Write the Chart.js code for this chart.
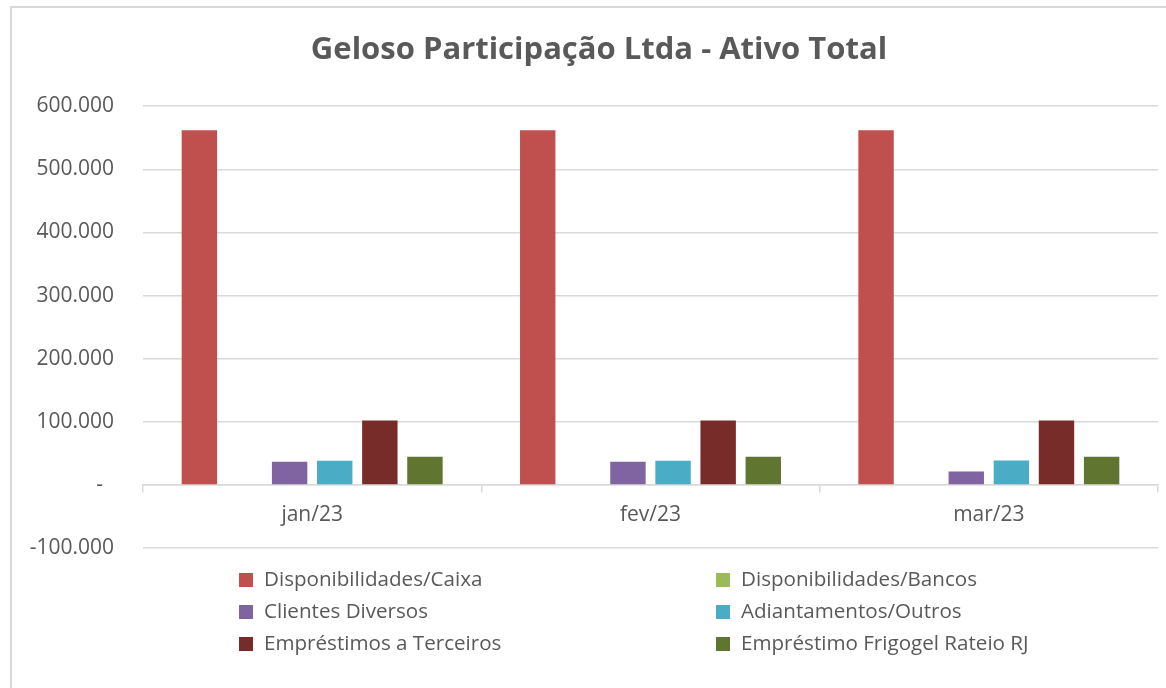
<!DOCTYPE html>
<html>
<head>
<meta charset="utf-8">
<script src="https://cdn.jsdelivr.net/npm/chart.js@4/dist/chart.umd.min.js"></script>
<style>
html,body{margin:0;padding:0;background:#fff;overflow:hidden;width:1166px;height:688px;}
#c{position:absolute;left:0;top:0;}
</style>
</head>
<body>
<canvas id="c" width="1200" height="688"></canvas>
<script>
const categories = ['jan/23', 'fev/23', 'mar/23'];
const caixa = [562000, 562000, 562000];
const bancos = [0, 0, 0];
const clientes = [36700, 36700, 21400];
const adiantamentos = [38300, 38300, 38800];
const emprestimosTerceiros = [102000, 102000, 102000];
const frigogel = [44600, 44600, 44600];
const yTicks = [-100000, 0, 100000, 200000, 300000, 400000, 500000, 600000];

const TXT = '#595959';
const GRID = '#d9d9d9';
const FONT = "'Open Sans', 'DejaVu Sans', sans-serif";

function fmt(v) {
  if (v === 0) return '-\u00a0\u00a0';
  const s = String(Math.abs(v)).replace(/\B(?=(\d{3})+(?!\d))/g, '.');
  return (v < 0 ? '-' : '') + s;
}

const borderPlugin = {
  id: 'frame',
  beforeDraw(chart) {
    const ctx = chart.ctx;
    ctx.save();
    ctx.fillStyle = '#fff';
    ctx.fillRect(0, 0, chart.width, chart.height);
    ctx.strokeStyle = GRID;
    ctx.lineWidth = 2;
    ctx.strokeRect(11, 7, 1400, 1000);
    ctx.restore();
  }
};

const legendPlugin = {
  id: 'gridLegend',
  afterDraw(chart) {
    const ctx = chart.ctx;
    const colX = [239, 716];
    const rowY = [580, 612, 644];
    ctx.save();
    ctx.font = '20.6px ' + FONT;
    ctx.textBaseline = 'middle';
    ctx.textAlign = 'left';
    chart.data.datasets.forEach((ds, i) => {
      const x = colX[i % 2];
      const y = rowY[Math.floor(i / 2)];
      ctx.fillStyle = ds.backgroundColor;
      ctx.fillRect(x, y - 7, 14, 14);
      ctx.fillStyle = TXT;
      ctx.fillText(ds.label, x + 25, y);
    });
    ctx.restore();
  }
};

new Chart(document.getElementById('c'), {
  type: 'bar',
  data: {
    labels: categories,
    datasets: [
      { label: 'Disponibilidades/Caixa', data: caixa, backgroundColor: '#C0504D' },
      { label: 'Disponibilidades/Bancos', data: bancos, backgroundColor: '#9BBB59' },
      { label: 'Clientes Diversos', data: clientes, backgroundColor: '#8064A2' },
      { label: 'Adiantamentos/Outros', data: adiantamentos, backgroundColor: '#4BACC6' },
      { label: 'Empréstimos a Terceiros', data: emprestimosTerceiros, backgroundColor: '#772C2A' },
      { label: 'Empréstimo Frigogel Rateio RJ', data: frigogel, backgroundColor: '#5F7530' }
    ]
  },
  options: {
    responsive: false,
    animation: false,
    categoryPercentage: 0.8,
    barPercentage: 0.785,
    layout: { padding: { left: 0, right: 2, top: 0, bottom: 140 } },
    plugins: {
      legend: { display: false },
      tooltip: { enabled: false },
      title: {
        display: true,
        text: 'Geloso Participação Ltda - Ativo Total',
        color: TXT,
        font: { family: FONT, size: 31, weight: 'bold' },
        padding: { top: 32, bottom: 37 }
      }
    },
    scales: {
      x: {
        position: { y: 0 },
        afterFit(scale) { scale.height = 0; },
        grid: { drawOnChartArea: false, drawTicks: true, tickLength: 7, color: GRID, lineWidth: 1.5 },
        border: { display: true, color: GRID, width: 1.5 },
        ticks: { color: TXT, font: { family: FONT, size: 21 }, padding: 11 }
      },
      y: {
        min: -100000,
        max: 600000,
        afterFit(scale) { scale.width = 143; },
        afterBuildTicks(scale) { scale.ticks = yTicks.map(v => ({ value: v })); },
        grid: { color: GRID, lineWidth: 1.5, drawTicks: false },
        border: { display: false },
        ticks: { color: TXT, font: { family: FONT, size: 21 }, padding: 29, callback: v => fmt(v) }
      },
      yRight: {
        position: 'right',
        min: -100000,
        max: 600000,
        afterFit(scale) { scale.width = 40; },
        grid: { display: false, drawTicks: false },
        border: { display: false },
        ticks: { display: false }
      }
    }
  },
  plugins: [borderPlugin, legendPlugin]
});
</script>
</body>
</html>
